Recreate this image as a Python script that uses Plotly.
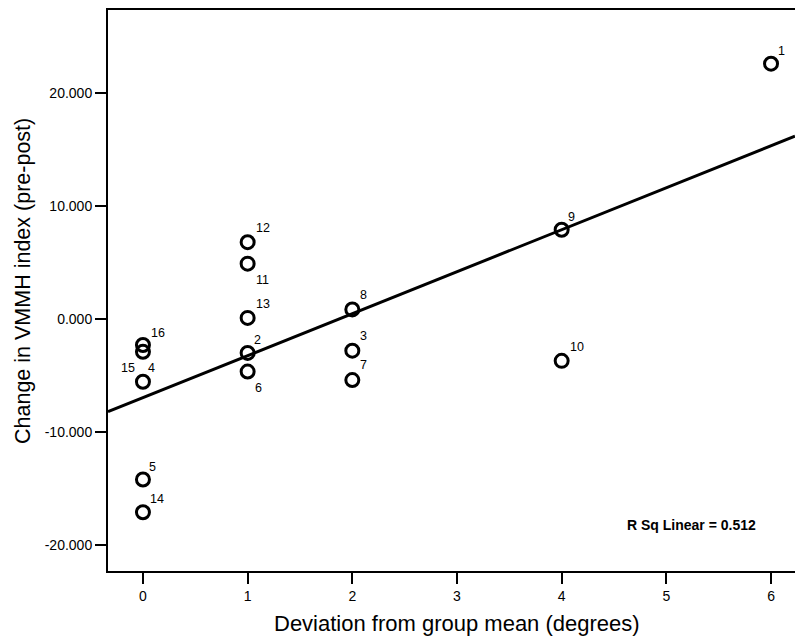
import numpy as np
import plotly.graph_objects as go

# Data
case_ids = ["1", "2", "3", "4", "5", "6", "7", "8", "9", "10", "11", "12", "13", "14", "15", "16"]
deviation = [6, 1, 2, 0, 0, 1, 2, 2, 4, 4, 1, 1, 1, 0, 0, 0]
vmmh_change = [22.6, -3.0, -2.8, -5.55, -14.2, -4.65, -5.4, 0.85, 7.9, -3.7, 4.9, 6.8, 0.1, -17.1, -2.9, -2.3]
y_tick_vals = [-20, -10, 0, 10, 20]
y_tick_text = ["-20.000", "-10.000", "0.000", "10.000", "20.000"]
x_tick_vals = [0, 1, 2, 3, 4, 5, 6]
x_title = "Deviation from group mean (degrees)"
y_title = "Change in VMMH index (pre-post)"
rsq_text = "R Sq Linear = 0.512"

# label offsets (pixels) for case labels
label_dx = [10, 10, 11, 9, 10, 11, 11, 11, 10, 15, 15, 15, 15, 14, -15, 15]
label_dy = [13, 13, 15, 14, 12, -16, 15, 14, 13, 14, -16, 14, 14, 13, -16, 12]

X_RANGE = [-0.334, 6.229]
Y_RANGE = [-22.3, 27.35]
FONT = "Arial, Liberation Sans, sans-serif"

slope, intercept = np.polyfit(deviation, vmmh_change, 1)
fit_x = np.array(X_RANGE)
fit_y = slope * fit_x + intercept

fig = go.Figure()
fig.add_trace(go.Scatter(
    x=fit_x, y=fit_y, mode="lines",
    line=dict(color="black", width=3), hoverinfo="skip", showlegend=False,
))
fig.add_trace(go.Scatter(
    x=deviation, y=vmmh_change, mode="markers",
    marker=dict(symbol="circle-open", size=13, color="black", line=dict(width=3, color="black")),
    showlegend=False, cliponaxis=False,
))

for cid, xv, yv, dx, dy in zip(case_ids, deviation, vmmh_change, label_dx, label_dy):
    fig.add_annotation(x=xv, y=yv, text=cid, showarrow=False, xshift=dx, yshift=dy,
                       xanchor="center", yanchor="middle",
                       font=dict(family=FONT, size=12.5, color="black"))

fig.add_annotation(x=5.24, y=-18.2, xref="x", yref="y", text="<b>" + rsq_text + "</b>",
                   showarrow=False, xanchor="center", yanchor="middle",
                   font=dict(family=FONT, size=14, color="black"))

# axis titles
fig.add_annotation(x=0.508, y=-0.0927, xref="paper", yref="paper", text=x_title,
                   showarrow=False, xanchor="center", yanchor="middle",
                   font=dict(family=FONT, size=22, color="black"))
fig.add_annotation(x=-0.1237, y=0.517, xref="paper", yref="paper", text=y_title,
                   showarrow=False, xanchor="center", yanchor="middle", textangle=-90,
                   font=dict(family=FONT, size=21.5, color="black"))

fig.update_layout(
    width=795, height=639,
    margin=dict(l=108, r=0, t=10, b=68, autoexpand=False),
    paper_bgcolor="white", plot_bgcolor="white",
    font=dict(family=FONT, color="black"),
    xaxis=dict(
        range=X_RANGE, tickvals=x_tick_vals, showgrid=False, zeroline=False, automargin=False,
        showline=True, linecolor="black", linewidth=2, mirror=True,
        ticks="outside", ticklen=11, tickwidth=2, tickcolor="black",
        tickfont=dict(family=FONT, size=14, color="black"),
    ),
    yaxis=dict(
        range=Y_RANGE, tickvals=y_tick_vals, ticktext=y_tick_text, showgrid=False, zeroline=False,
        automargin=False,
        showline=True, linecolor="black", linewidth=2,
        ticks="outside", ticklen=11, tickwidth=2, tickcolor="black",
        tickfont=dict(family=FONT, size=14, color="black"),
    ),
)

fig.write_html(
    "out.html",
    config={"displayModeBar": False},
    post_script="document.body.style.margin='0';document.documentElement.style.overflow='hidden';document.body.style.overflow='hidden';",
)
